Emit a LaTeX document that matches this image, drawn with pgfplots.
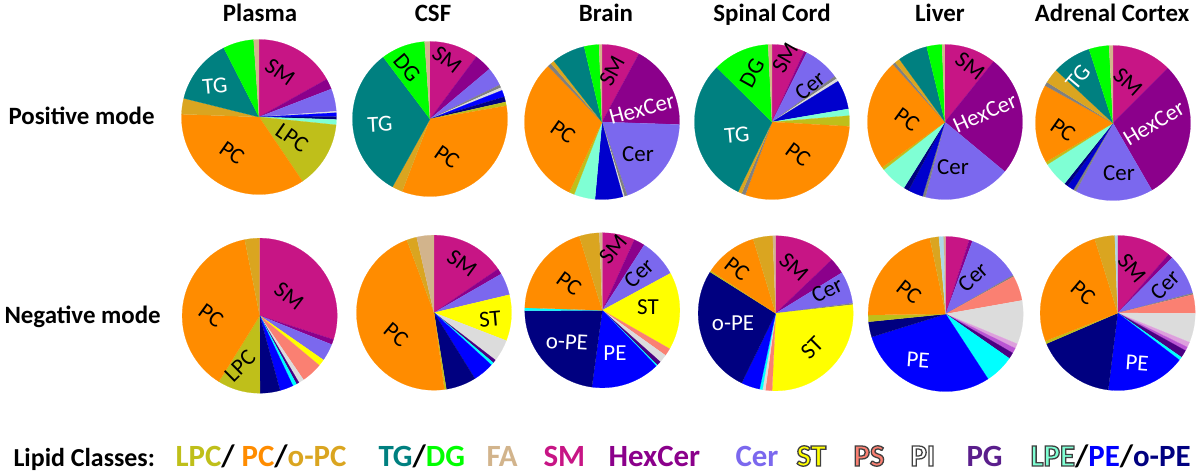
\documentclass[border=0pt]{standalone}
\usepackage{fontspec}
\setmainfont{Carlito}
\usepackage{pgfplots}
\pgfplotsset{compat=1.18}

% lipid class colours
\definecolor{cSM}{HTML}{C71585}
\definecolor{cHex}{HTML}{8B008B}
\definecolor{cCer}{HTML}{7B68EE}
\definecolor{cST}{HTML}{FFFF00}
\definecolor{cPS}{HTML}{FA8072}
\definecolor{cPI}{HTML}{DCDCDC}
\definecolor{cPG}{HTML}{4B0082}
\definecolor{cPGt}{HTML}{5A1E8C}
\definecolor{cPl}{HTML}{DDA0DD}
\definecolor{cOr}{HTML}{BA55D3}
\definecolor{cLPE}{HTML}{7FFFD4}
\definecolor{cAq}{HTML}{00FFFF}
\definecolor{cPE}{HTML}{0000FF}
\definecolor{cMB}{HTML}{0000CD}
\definecolor{coPE}{HTML}{000080}
\definecolor{cLPC}{HTML}{BFBF1A}
\definecolor{cPC}{HTML}{FF8C00}
\definecolor{coPC}{HTML}{DAA520}
\definecolor{cGr}{HTML}{808080}
\definecolor{cTG}{HTML}{008080}
\definecolor{cDG}{HTML}{00FF00}
\definecolor{cFA}{HTML}{D2B48C}
\definecolor{cLB}{HTML}{ADD8E6}

% one pie: centre x, centre y (pixels, y downwards), list colour/percent,
% slices clockwise from 12 o'clock
\newcommand\pier{77.5}
\newcommand\drawpie[3]{%
  \xdef\pietot{0}%
  \foreach \c/\v in {#3}{\pgfmathsetmacro\pietmp{\pietot+\v}\xdef\pietot{\pietmp}}%
  \xdef\piestart{0}%
  \foreach \c/\v in {#3}{%
    \pgfmathsetmacro\pieend{\piestart+\v/\pietot*360}%
    \pgfmathtruncatemacro\pien{max(1,ceil((\pieend-\piestart)/2))}%
    \xdef\piecoords{(#1,#2)}%
    \foreach \k in {0,...,\pien}{%
      \pgfmathsetmacro\ang{\piestart+(\pieend-\piestart)*\k/\pien}%
      \pgfmathsetmacro\piex{#1+\pier*sin(\ang)}%
      \pgfmathsetmacro\piey{#2-\pier*cos(\ang)}%
      \xdef\piecoords{\piecoords (\piex,\piey)}%
    }%
    \edef\temp{\noexpand\addplot[forget plot, fill=\c, draw=\c, line width=0.2bp] coordinates {\piecoords};}%
    \temp
    \xdef\piestart{\pieend}%
  }%
}

% outlined legend text (fill + stroke render mode)
\newcommand\outl[2]{\textcolor{#1}{\special{pdf:code 0.25 0.25 0.25 RG 1.3 w 2 Tr}#2\special{pdf:code 0 Tr}}}

\begin{document}
\begin{tikzpicture}
\begin{axis}[
    at={(0,0)}, anchor=south west,
    scale only axis, width=1200bp, height=474bp,
    xmin=0, xmax=1200, ymin=0, ymax=474,
    y dir=reverse,
    hide axis, clip=false,
    every node/.style={inner sep=0pt},
]
% ---- positive mode ----
\drawpie{259}{117}{cSM/16.9, cHex/2.2, cCer/4.7, cPI/0.3, cPE/0.8, coPE/0.6, cLPE/1.1, cLPC/13.9, cPC/35.0, coPC/3.3, cTG/13.6, cDG/6.4, cFA/1.1}
\drawpie{430}{119}{cSM/10.2, cHex/3.7, cCer/3.9, cGr/0.6, cPI/0.6, cPE/1.4, coPE/1.1, cLPC/0.8, cPC/33.6, coPC/2.2, cTG/31.7, cDG/9.2, cFA/1.1}
\drawpie{602}{122}{cSM/7.9, cHex/17.6, cCer/19.2, cGr/0.6, cPI/0.3, cMB/5.8, cLPE/4.4, cLPC/1.1, cPC/30.8, cGr/0.8, coPC/0.8, cTG/6.9, cDG/3.1, cFA/0.6}
\drawpie{772}{122}{cSM/6.8, cHex/0.6, cCer/7.6, cGr/0.6, cPI/0.6, cMB/6.1, cLPE/1.4, cLPC/2.2, cPC/29.7, cGr/0.8, coPC/0.8, cTG/30.2, cDG/11.8, cFA/0.8}
\drawpie{945}{122}{cSM/10.8, cHex/25.3, cCer/18.1, cGr/0.6, cMB/3.1, coPE/1.1, cLPE/5.6, cLPC/0.6, cPC/23.3, cGr/0.6, coPC/1.1, cTG/6.2, cDG/3.2, cFA/0.6}
\drawpie{1113}{123}{cSM/12.5, cHex/29.2, cCer/16.3, cGr/0.6, cMB/1.4, coPE/0.8, cLPE/5.3, cLPC/0.6, cPC/16.4, cGr/0.8, coPC/3.1, cTG/8.1, cDG/4.2, cFA/0.8}
% ---- negative mode ----
\drawpie{259.7}{315.7}{cSM/30.0, cHex/1.1, cCer/3.6, cST/1.4, cPS/4.4, cPI/1.1, cPG/0.6, cAq/0.8, cPE/2.8, coPE/4.2, cLPC/8.9, cPC/38.1, coPC/3.1}
\drawpie{434}{312.7}{cSM/15.5, cHex/1.2, cCer/4.6, cST/9.6, cPI/4.6, cPG/0.7, cAq/0.6, cPE/4.4, coPE/6.3, cLPC/0.4, cPC/46.5, coPC/2.1, cFA/3.6}
\drawpie{602.3}{310.3}{cSM/6.8, cHex/2.3, cCer/8.0, cST/16.2, cPS/1.6, cPI/1.7, cPG/0.9, cAq/0.3, cPE/14.4, coPE/22.8, cAq/0.6, cPC/19.7, coPC/4.2, cFA/0.6}
\drawpie{775.7}{313.3}{cSM/12.9, cHex/3.4, cCer/6.7, cGr/0.3, cST/27.6, cPS/1.4, cPI/0.6, cAq/0.6, cPE/3.9, coPE/26.8, cLPC/0.3, cPC/11.1, coPC/4.1, cFA/0.6}
\drawpie{945.7}{314}{cSM/4.9, cHex/0.7, cCer/11.1, cGr/0.3, cPS/5.2, cPI/9.1, cPl/1.0, cOr/1.1, cPG/1.3, cAq/6.1, cPE/29.4, coPE/3.2, cLPC/1.4, cPC/21.9, coPC/1.9, cLB/1.0, cFA/0.4}
\drawpie{1117.7}{313}{cSM/11.4, cHex/1.0, cCer/8.5, cGr/0.3, cPS/3.9, cPI/6.1, cPl/1.1, cOr/0.8, cPG/1.6, cAq/0.7, cPE/16.6, coPE/16.6, cLPC/0.6, cPC/26.1, coPC/4.2, cLB/0.6}

% ---- column titles ----
\begin{scope}[every node/.append style={anchor=base, font=\fontsize{25}{25}\selectfont\bfseries}]
\node at (axis cs:260,22) {Plasma};
\node at (axis cs:433,22) {CSF};
\node at (axis cs:606,22) {Brain};
\node at (axis cs:772,22) {Spinal Cord};
\node at (axis cs:940,22) {Liver};
\node at (axis cs:1112,22) {Adrenal Cortex};
\end{scope}
% ---- row labels ----
\node[anchor=base west, font=\fontsize{25}{25}\selectfont\bfseries] at (axis cs:5,125) {Positive mode};
\node[anchor=base west, font=\fontsize{25}{25}\selectfont\bfseries] at (axis cs:1,323) {Negative mode};

% ---- slice labels ----
\begin{scope}[every node/.append style={font=\fontsize{23}{23}\selectfont}]
\node[rotate=-35] at (axis cs:280,72) {SM};
\node[rotate=5, text=white] at (axis cs:215,86) {TG};
\node[rotate=-35] at (axis cs:292,138) {LPC};
\node[rotate=-35] at (axis cs:232,153) {PC};
\node[rotate=-38] at (axis cs:447,60) {SM};
\node[rotate=-50] at (axis cs:407,68) {DG};
\node[rotate=3, text=white] at (axis cs:380,124) {TG};
\node[rotate=-35] at (axis cs:447,157) {PC};
\node[rotate=62] at (axis cs:612,71) {SM};
\node[rotate=15, text=white] at (axis cs:642,109) {HexCer};
\node[rotate=-35] at (axis cs:563,132) {PC};
\node at (axis cs:638,154) {Cer};
\node[rotate=61] at (axis cs:752,73) {DG};
\node[rotate=60] at (axis cs:785,58) {SM};
\node[rotate=39] at (axis cs:810,86) {Cer};
\node[rotate=5, text=white] at (axis cs:737,135) {TG};
\node[rotate=-36] at (axis cs:798,155) {PC};
\node[rotate=-37] at (axis cs:970,66) {SM};
\node[rotate=24, text=white] at (axis cs:985,113) {HexCer};
\node[rotate=-36] at (axis cs:907,120) {PC};
\node at (axis cs:953,167) {Cer};
\node[rotate=50, text=white] at (axis cs:1078,77) {TG};
\node[rotate=-42] at (axis cs:1128,82) {SM};
\node[rotate=31, text=white] at (axis cs:1154,123) {HexCer};
\node[rotate=-35] at (axis cs:1063,130) {PC};
\node at (axis cs:1119,173) {Cer};
% negative
\node[rotate=-37] at (axis cs:289,296) {SM};
\node[rotate=-36] at (axis cs:211,316) {PC};
\node[rotate=45] at (axis cs:240,366) {LPC};
\node[rotate=-36] at (axis cs:462,263) {SM};
\node[rotate=5] at (axis cs:490,319) {ST};
\node[rotate=-40] at (axis cs:396,335) {PC};
\node[rotate=50] at (axis cs:613,249) {SM};
\node[rotate=43] at (axis cs:639,273) {Cer};
\node[rotate=-36] at (axis cs:569,284) {PC};
\node at (axis cs:648,307) {ST};
\node[rotate=-3, text=white] at (axis cs:567,342) {o-PE};
\node[text=white] at (axis cs:615,353) {PE};
\node[rotate=-38] at (axis cs:737,269) {PC};
\node[rotate=-42] at (axis cs:794,267) {SM};
\node[rotate=25] at (axis cs:827,290) {Cer};
\node[text=white] at (axis cs:733,323) {o-PE};
\node[rotate=45] at (axis cs:812,348) {ST};
\node[rotate=42] at (axis cs:973,277) {Cer};
\node[rotate=-38] at (axis cs:909,292) {PC};
\node[rotate=-4, text=white] at (axis cs:918,360) {PE};
\node[rotate=-50] at (axis cs:1132,268) {SM};
\node[rotate=45] at (axis cs:1165,285) {Cer};
\node[rotate=-40] at (axis cs:1083,293) {PC};
\node[rotate=-4, text=white] at (axis cs:1137,363) {PE};
\end{scope}

% ---- legend line ----
\node[anchor=base west, font=\fontsize{26}{26}\selectfont\bfseries] at (axis cs:10,466) {Lipid Classes:};
\begin{scope}[every node/.append style={anchor=base west, font=\fontsize{31}{31}\selectfont\bfseries}]
\node at (axis cs:172,466) {\textcolor{cLPC}{LPC}/ \textcolor{cPC}{PC}/\textcolor{coPC}{o-PC}};
\node at (axis cs:375,466) {\textcolor{cTG}{TG}/\textcolor{cDG}{DG}};
\node at (axis cs:483,466) {\textcolor{cFA}{FA}};
\node at (axis cs:540,466) {\textcolor{cSM}{SM}};
\node at (axis cs:605,466) {\textcolor{cHex}{HexCer}};
\node at (axis cs:732,466) {\textcolor{cCer}{Cer}};
\node at (axis cs:793,466) {\outl{cST}{ST}};
\node at (axis cs:850,466) {\outl{cPS}{PS}};
\node at (axis cs:907,466) {\outl{white}{PI}};
\node at (axis cs:963,466) {\textcolor{cPGt}{PG}};
\node at (axis cs:1027,466) {\outl{cLPE}{LPE}/\textcolor{cPE}{PE}/\textcolor{coPE}{o-PE}};
\end{scope}
\end{axis}
\pgfresetboundingbox
\path (0,0) rectangle (1200bp,474bp);
\end{tikzpicture}
\end{document}
